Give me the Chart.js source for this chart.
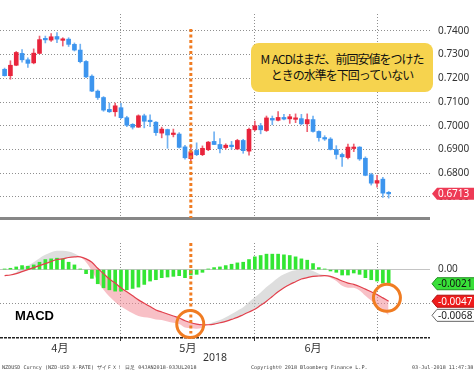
<!DOCTYPE html>
<html>
<head>
<meta charset="utf-8">
<title>NZDUSD MACD</title>
<script src="https://cdn.jsdelivr.net/npm/chart.js@4.4.1/dist/chart.umd.min.js"></script>
<style>
  html, body { margin: 0; padding: 0; background: #fff; }
  #page { position: relative; width: 474px; height: 373px; overflow: hidden; background: #fff; }
  #priceBox { position: absolute; left: 0; top: 0; width: 474px; height: 232px; }
  #macdBox { position: absolute; left: 0; top: 229px; width: 474px; height: 144px; }
  canvas { display: block; }
  .note {
    position: absolute; left: 251px; top: 43px; width: 182px; height: 49px;
    box-sizing: border-box; padding-top: 8px;
    background: #f6d34e; border-radius: 8px;
    font-family: "Noto Sans CJK JP"; font-size: 12px; line-height: 16px;
    letter-spacing: -1px; text-align: center; color: #111;
  }
  .note .sp { letter-spacing: 0; }
  .macdTitle {
    position: absolute; left: 15px; top: 309px;
    font-family: "Liberation Sans"; font-size: 13px; font-weight: bold; line-height: 13px; color: #000;
  }
  .foot {
    position: absolute; top: 364px; white-space: nowrap;
    font-family: "DejaVu Sans Mono"; font-size: 5.1px; line-height: 6px; color: #444;
  }
</style>
</head>
<body>
<div id="page">
  <div id="priceBox"><canvas id="priceChart" width="474" height="232"></canvas></div>
  <div id="macdBox"><canvas id="macdChart" width="474" height="144"></canvas></div>
  <div class="note">M<span class="sp"> </span>ACDはまだ、前回安値をつけた<br>ときの水準を下回っていない</div>
  <div class="macdTitle">MACD</div>
  <div class="foot" style="left:2px">NZDUSD Curncy (NZD-USD X-RATE) ザイＦＸ！ 日足 04JAN2018-03JUL2018</div>
  <div class="foot" style="left:251px">Copyright© 2018 Bloomberg Finance L.P.</div>
  <div class="foot" style="left:412px">03-Jul-2018 11:47:38</div>
</div>
<script>
// trading days, April 2018 -> 3 July 2018
const dayIndex = Array.from({ length: 67 }, (_, i) => i + 1);

const candleOpen = [
  0.7238, 0.7211, 0.7255, 0.7305, 0.7278, 0.7265, 0.7305, 0.7363, 0.7361, 0.7376,
  0.7360, 0.7365, 0.7343, 0.7319, 0.7271, 0.7209, 0.7146, 0.7119, 0.7069, 0.7059,
  0.7076, 0.7034, 0.7006, 0.6994, 0.7042, 0.7019, 0.7015, 0.6969, 0.6984, 0.6963,
  0.6965, 0.6911, 0.6861, 0.6896, 0.6878, 0.6899, 0.6934, 0.6921, 0.6908, 0.6918,
  0.6902, 0.6938, 0.6893, 0.6983, 0.7000, 0.6980, 0.7031, 0.7023, 0.7035, 0.7029,
  0.7027, 0.7030, 0.7008, 0.7026, 0.6976, 0.6950, 0.6944, 0.6900, 0.6879, 0.6866,
  0.6904, 0.6910, 0.6863, 0.6794, 0.6758, 0.6775, 0.6716
];
const candleHigh = [
  0.7243, 0.7274, 0.7313, 0.7321, 0.7286, 0.7324, 0.7378, 0.7378, 0.7388, 0.7393,
  0.7371, 0.7371, 0.7349, 0.7344, 0.7275, 0.7215, 0.7151, 0.7123, 0.7096, 0.7096,
  0.7094, 0.7040, 0.7009, 0.7046, 0.7049, 0.7046, 0.7018, 0.6994, 0.6986, 0.6986,
  0.6971, 0.6918, 0.6921, 0.6928, 0.6915, 0.6934, 0.6974, 0.6946, 0.6924, 0.6934,
  0.6943, 0.6943, 0.6990, 0.7020, 0.7010, 0.7041, 0.7041, 0.7060, 0.7048, 0.7048,
  0.7050, 0.7048, 0.7050, 0.7041, 0.6979, 0.6958, 0.6950, 0.6916, 0.6885, 0.6923,
  0.6923, 0.6912, 0.6869, 0.6800, 0.6791, 0.6783, 0.6723
];
const candleLow = [
  0.7209, 0.7196, 0.7253, 0.7268, 0.7246, 0.7261, 0.7304, 0.7349, 0.7355, 0.7350,
  0.7336, 0.7334, 0.7315, 0.7265, 0.7203, 0.7144, 0.7111, 0.7061, 0.7056, 0.7040,
  0.7030, 0.6996, 0.6986, 0.6993, 0.6991, 0.6996, 0.6959, 0.6949, 0.6905, 0.6953,
  0.6906, 0.6859, 0.6846, 0.6874, 0.6874, 0.6895, 0.6920, 0.6886, 0.6901, 0.6901,
  0.6899, 0.6884, 0.6876, 0.6978, 0.6966, 0.6976, 0.7004, 0.7020, 0.7025, 0.7010,
  0.7013, 0.7004, 0.6975, 0.6973, 0.6935, 0.6938, 0.6898, 0.6860, 0.6829, 0.6860,
  0.6891, 0.6854, 0.6789, 0.6750, 0.6741, 0.6698, 0.6695
];
const candleClose = [
  0.7211, 0.7255, 0.7309, 0.7278, 0.7263, 0.7306, 0.7363, 0.7362, 0.7375, 0.7365,
  0.7365, 0.7343, 0.7319, 0.7270, 0.7206, 0.7146, 0.7119, 0.7066, 0.7059, 0.7084,
  0.7034, 0.7002, 0.6994, 0.7042, 0.7019, 0.7017, 0.6971, 0.6986, 0.6961, 0.6969,
  0.6909, 0.6865, 0.6890, 0.6878, 0.6905, 0.6931, 0.6921, 0.6903, 0.6918, 0.6912,
  0.6938, 0.6895, 0.6985, 0.7000, 0.6983, 0.7033, 0.7024, 0.7035, 0.7028, 0.7038,
  0.7032, 0.7008, 0.7026, 0.6976, 0.6950, 0.6944, 0.6900, 0.6879, 0.6869, 0.6910,
  0.6910, 0.6860, 0.6791, 0.6758, 0.6769, 0.6716, 0.6713
];

const histogram = [
  0.0001, 0.0002, 0.0004, 0.0006, 0.0005, 0.0007, 0.0011, 0.0015, 0.0016, 0.0017,
  0.0016, 0.0011, 0.0007, 0.0001, -0.0006, -0.0013, -0.0021, -0.0027, -0.0030, -0.0032,
  -0.0032, -0.0030, -0.0028, -0.0026, -0.0022, -0.0017, -0.0015, -0.0012, -0.0011, -0.0010,
  -0.0009, -0.0012, -0.0008, -0.0007, -0.0004, 0.0001, 0.0003, 0.0004, 0.0006, 0.0008,
  0.0010, 0.0011, 0.0015, 0.0019, 0.0021, 0.0023, 0.0023, 0.0023, 0.0022, 0.0021,
  0.0019, 0.0016, 0.0014, 0.0009, 0.0003, 0.0001, -0.0002, -0.0004, -0.0008, -0.0008,
  -0.0005, -0.0007, -0.0012, -0.0015, -0.0017, -0.0020, -0.0021
];
const signalLine = [
  -0.0009, -0.0008, -0.0006, -0.0003, 0.0000, 0.0003, 0.0006, 0.0009, 0.0012, 0.0015,
  0.0016, 0.0018, 0.0019, 0.0019, 0.0016, 0.0011, 0.0002, -0.0006, -0.0014, -0.0020,
  -0.0027, -0.0033, -0.0039, -0.0045, -0.0050, -0.0055, -0.0060, -0.0063, -0.0066, -0.0069,
  -0.0072, -0.0076, -0.0079, -0.0081, -0.0082, -0.0082, -0.0081, -0.0079, -0.0077, -0.0074,
  -0.0071, -0.0067, -0.0063, -0.0059, -0.0053, -0.0047, -0.0040, -0.0033, -0.0027, -0.0022,
  -0.0018, -0.0014, -0.0012, -0.0010, -0.00095, -0.0009, -0.0010, -0.0013, -0.0017, -0.0020,
  -0.0022, -0.0025, -0.0029, -0.0033, -0.0037, -0.0042, -0.0047
];
const macdLine = [
  -0.0010, -0.0008, -0.0004, 0.0003, 0.0006, 0.0011, 0.0017, 0.0022, 0.0026, 0.0028,
  0.0028, 0.0027, 0.0024, 0.0019, 0.0011, -0.0002, -0.0017, -0.0030, -0.0040, -0.0048,
  -0.0055, -0.0060, -0.0065, -0.0069, -0.0071, -0.0072, -0.0074, -0.0075, -0.0077, -0.0079,
  -0.0081, -0.0086, -0.0087, -0.0088, -0.0086, -0.0081, -0.0078, -0.0075, -0.0071, -0.0066,
  -0.0061, -0.0056, -0.0048, -0.0041, -0.0034, -0.0026, -0.0019, -0.0012, -0.0007, -0.0003,
  -0.0001, 0.0000, 0.0000, -0.0002, -0.0006, -0.0008, -0.0012, -0.0017, -0.0024, -0.0027,
  -0.0027, -0.0031, -0.0039, -0.0046, -0.0052, -0.0060, -0.0068
];

const priceTicks = [0.67, 0.68, 0.69, 0.70, 0.71, 0.72, 0.73, 0.74];
const monthLabels = ["4月", "5月", "6月"];
const monthLabelDays = [10.5, 32.5, 54];
const monthStartDays = [21, 44, 65];
const lastPrice = 0.6713;
const markerDay = 33;
const circleDays = [32.9, 66.7];
const circleValues = [-0.0081, -0.0042];

// visible ranges of the two panels
const X_MIN = 0.21, X_MAX = 74.1;
const P_MIN = 0.66112, P_MAX = 0.7471;
const M_MIN = -0.01017, M_MAX = 0.00396;

const RED = "#e8243c", BLUE = "#3d95ee";
const RED_WICK = "#ee6172", BLUE_WICK = "#72b2f2";
const ORANGE = "#f07c22";
const GRID = "#8f8f8f";
const TICK_FONT = { family: "Noto Sans", size: 10 };

const isUp = i => candleClose[i] >= candleOpen[i];

function drawTag(ctx, y, text, fill, stroke, color) {
  ctx.save();
  ctx.beginPath();
  ctx.moveTo(432, y);
  ctx.lineTo(437, y - 6);
  ctx.lineTo(480, y - 6);
  ctx.lineTo(480, y + 6);
  ctx.lineTo(437, y + 6);
  ctx.closePath();
  ctx.fillStyle = fill;
  ctx.fill();
  if (stroke) {
    ctx.strokeStyle = stroke;
    ctx.lineWidth = 1;
    ctx.stroke();
  }
  ctx.fillStyle = color;
  ctx.font = '10px "Noto Sans"';
  ctx.textBaseline = "middle";
  ctx.fillText(text, 438, y + 0.5);
  ctx.restore();
}

const priceTag = {
  id: "priceTag",
  afterDraw(chart) {
    const y = chart.scales.y.getPixelForValue(lastPrice);
    drawTag(chart.ctx, y, lastPrice.toFixed(4), "#ee3a55", null, "#fff");
  }
};

const macdTags = {
  id: "macdTags",
  afterDraw(chart) {
    const s = chart.scales.y;
    const n = histogram.length - 1;
    drawTag(chart.ctx, s.getPixelForValue(histogram[n]), histogram[n].toFixed(4), "#38e038", "#1f8f1f", "#111");
    drawTag(chart.ctx, s.getPixelForValue(signalLine[n]), signalLine[n].toFixed(4), "#ee1c1c", "#b01010", "#fff");
    drawTag(chart.ctx, s.getPixelForValue(macdLine[n]), macdLine[n].toFixed(4), "#fff", "#666", "#222");
  }
};

new Chart(document.getElementById("priceChart"), {
  type: "bar",
  data: {
    datasets: [
      {
        type: "line",
        label: "marker",
        data: [{ x: markerDay, y: 0.7408 }, { x: markerDay, y: P_MIN }],
        borderColor: ORANGE,
        borderWidth: 3,
        borderDash: [3, 2.5],
        borderCapStyle: "butt",
        pointRadius: 0,
        clip: false,
        order: 0
      },
      {
        label: "body",
        data: dayIndex.map((d, i) => ({ x: d, y: [candleOpen[i], candleClose[i]] })),
        backgroundColor: c => (isUp(c.dataIndex) ? RED : BLUE),
        barThickness: 4,
        minBarLength: 1.5,
        grouped: false,
        order: 1
      },
      {
        label: "wick",
        data: dayIndex.map((d, i) => ({ x: d, y: [candleLow[i], candleHigh[i]] })),
        backgroundColor: c => (isUp(c.dataIndex) ? RED_WICK : BLUE_WICK),
        barThickness: 1,
        grouped: false,
        order: 2
      }
    ]
  },
  options: {
    responsive: false,
    animation: false,
    devicePixelRatio: 1,
    layout: { autoPadding: false, padding: { top: 0, left: 0, right: 0, bottom: 2 } },
    plugins: { legend: { display: false }, tooltip: { enabled: false } },
    scales: {
      x: {
        type: "linear",
        offset: false,
        min: X_MIN,
        max: X_MAX,
        afterBuildTicks: s => { s.ticks = monthStartDays.map(v => ({ value: v })); },
        ticks: { display: false },
        grid: { color: GRID, drawTicks: false, offset: false },
        border: { display: false, dash: [1, 2] }
      },
      y: {
        type: "linear",
        position: "right",
        min: P_MIN,
        max: P_MAX,
        afterBuildTicks: s => { s.ticks = [P_MIN, ...priceTicks].map(v => ({ value: v })); },
        afterFit: s => { s.width = 44; },
        ticks: {
          padding: 8,
          color: "#333",
          font: TICK_FONT,
          callback: v => (v === P_MIN ? "" : v.toFixed(4))
        },
        grid: {
          drawTicks: false,
          color: c => (c.tick && c.tick.value === P_MIN ? "#878787" : GRID),
          lineWidth: c => (c.tick && c.tick.value === P_MIN ? 3 : 1)
        },
        border: { display: false, dash: c => (c.tick && c.tick.value === P_MIN ? [] : [1, 2]) }
      }
    }
  },
  plugins: [priceTag]
});

new Chart(document.getElementById("macdChart"), {
  type: "bar",
  data: {
    datasets: [
      {
        label: "histogram",
        data: dayIndex.map((d, i) => ({ x: d, y: histogram[i] })),
        backgroundColor: "#33e633",
        barThickness: 3,
        grouped: false,
        order: 3
      },
      {
        type: "line",
        label: "signal",
        data: dayIndex.map((d, i) => ({ x: d, y: signalLine[i] })),
        borderColor: "#e2404c",
        borderWidth: 1.2,
        pointRadius: 0,
        tension: 0.35,
        order: 2
      },
      {
        type: "line",
        label: "macd",
        data: dayIndex.map((d, i) => ({ x: d, y: macdLine[i] })),
        borderColor: "rgba(0,0,0,0)",
        borderWidth: 0,
        pointRadius: 0,
        tension: 0.35,
        fill: { target: 1, above: "rgba(200,200,200,0.6)", below: "rgba(243,140,152,0.55)" },
        order: 4
      },
      {
        type: "line",
        label: "marker",
        data: [{ x: markerDay, y: M_MAX }, { x: markerDay, y: -0.0095 }],
        borderColor: ORANGE,
        borderWidth: 3,
        borderDash: [3, 2.5],
        borderCapStyle: "butt",
        pointRadius: 0,
        clip: false,
        order: 1
      },
      {
        type: "line",
        label: "circles",
        data: circleDays.map((d, i) => ({ x: d, y: circleValues[i] })),
        showLine: false,
        pointRadius: 13.5,
        pointBorderWidth: 3,
        pointBorderColor: ORANGE,
        pointBackgroundColor: "rgba(0,0,0,0)",
        clip: false,
        order: 0
      }
    ]
  },
  options: {
    responsive: false,
    animation: false,
    devicePixelRatio: 1,
    layout: { autoPadding: false, padding: { top: 2, left: 0, right: 0, bottom: 0 } },
    plugins: { legend: { display: false }, tooltip: { enabled: false } },
    scales: {
      x: {
        type: "linear",
        offset: false,
        min: X_MIN,
        max: X_MAX,
        afterBuildTicks: s => {
          s.ticks = [...monthLabelDays, ...monthStartDays].sort((a, b) => a - b).map(v => ({ value: v }));
        },
        afterFit: s => { s.height = 35; },
        ticks: {
          autoSkip: false,
          maxRotation: 0,
          padding: 0,
          color: "#333",
          font: { family: "Noto Sans CJK JP", size: 11 },
          callback: v => {
            const k = monthLabelDays.indexOf(v);
            return k >= 0 ? monthLabels[k] : "";
          }
        },
        grid: {
          offset: false,
          drawTicks: true,
          tickLength: 3,
          color: c => (c.tick && monthStartDays.includes(c.tick.value) ? GRID : "rgba(0,0,0,0)"),
          tickColor: c => (c.tick && monthStartDays.includes(c.tick.value) ? "#333" : "rgba(0,0,0,0)")
        },
        border: { display: false, dash: [1, 2] },
        title: {
          display: true,
          text: "2018",
          color: "#333",
          font: { family: "Noto Sans", size: 10.5 },
          padding: { top: 0, bottom: 9 }
        }
      },
      y: {
        type: "linear",
        position: "right",
        min: M_MIN,
        max: M_MAX,
        afterBuildTicks: s => { s.ticks = [M_MIN, -0.005, 0].map(v => ({ value: v })); },
        afterFit: s => { s.width = 44; },
        ticks: {
          padding: 8,
          color: "#333",
          font: TICK_FONT,
          callback: v => (v === 0 ? "0.00" : "")
        },
        grid: {
          drawTicks: false,
          color: c => {
            const v = c.tick ? c.tick.value : null;
            return v === M_MIN ? "#222" : v === 0 ? "#c4c4c4" : GRID;
          },
          lineWidth: c => (c.tick && c.tick.value === M_MIN ? 1.5 : 1)
        },
        border: {
          display: false,
          dash: c => {
            const v = c.tick ? c.tick.value : null;
            return v === M_MIN ? [3, 1] : v === 0 ? [] : [1, 2];
          }
        }
      }
    }
  },
  plugins: [macdTags]
});
</script>
</body>
</html>
